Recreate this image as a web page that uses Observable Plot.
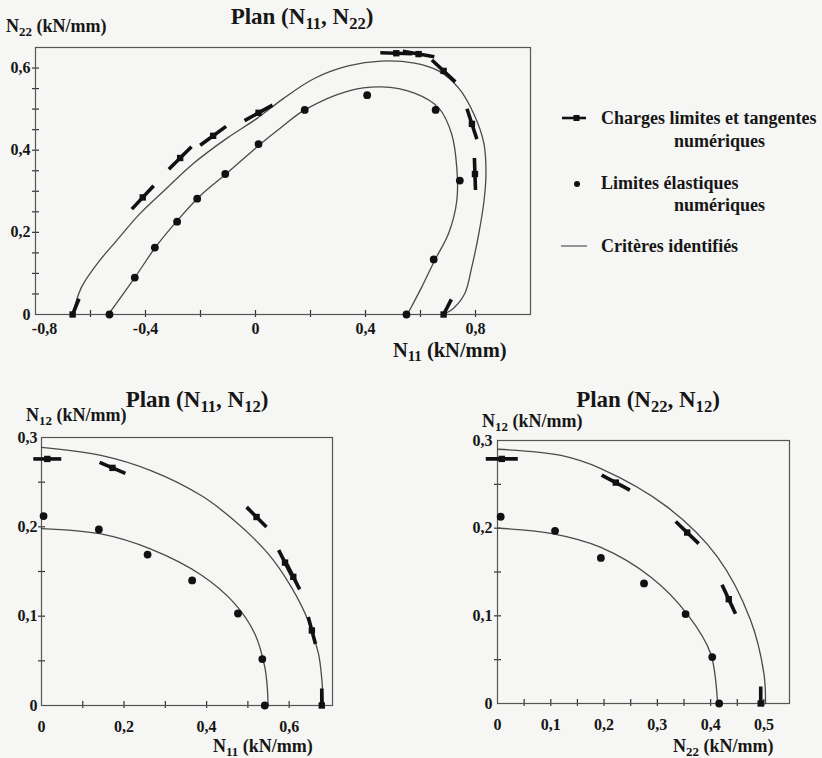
<!DOCTYPE html>
<html><head><meta charset="utf-8">
<script src="https://cdn.jsdelivr.net/npm/d3@7"></script>
<script src="https://cdn.jsdelivr.net/npm/@observablehq/plot@0.6"></script>
<style>
body{margin:0;background:#f6f6f4;}
#fig{position:relative;width:822px;height:758px;font-family:"Liberation Serif","Times New Roman",serif;color:#161616;overflow:hidden;font-weight:bold;}
#fig svg{position:absolute;overflow:visible;}
.t{position:absolute;white-space:nowrap;line-height:1;}
.title{font-size:23px;transform:translate(-50%,-50%);}
.lab{font-size:18px;transform:translateY(-50%);}
.labx{font-size:20.5px;transform:translateY(-50%);}
.leg{font-size:18px;transform:translateY(-50%);}
sub{font-size:0.72em;vertical-align:-0.32em;line-height:0;}
</style></head><body><div id="fig"></div>
<script>
// ---------- Plan (N11, N22) ----------
const topTicksX = [-0.6,-0.4,-0.2,0,0.2,0.4,0.6,0.8];
const topLabelsX = [-0.4,0,0.4,0.8];
const topEdgeLabelX = [-0.8];
const topTicksY = [0.05,0.1,0.15,0.2,0.25,0.3,0.35,0.4,0.45,0.5,0.55,0.6];
const topLabelsY = [0,0.2,0.4,0.6];
// critère identifié (charges limites)
const topCritLimX = [-0.665,-0.633,-0.567,-0.505,-0.421,-0.322,-0.227,-0.102,0.007,0.1,0.212,0.337,0.457,0.578,0.666,0.739,0.794,0.831,0.838,0.831,0.812,0.786,0.761,0.72,0.684];
const topCritLimY = [0,0.066,0.131,0.18,0.245,0.308,0.367,0.43,0.478,0.525,0.574,0.605,0.617,0.612,0.593,0.551,0.488,0.415,0.342,0.277,0.197,0.114,0.051,0.015,0];
// critère identifié (limites élastiques)
const topCritElaX = [-0.535,-0.446,-0.359,-0.285,-0.201,-0.102,0.018,0.091,0.179,0.337,0.457,0.578,0.666,0.713,0.732,0.732,0.702,0.651,0.604,0.56,0.552];
const topCritElaY = [0,0.083,0.168,0.228,0.289,0.345,0.415,0.454,0.498,0.544,0.554,0.539,0.503,0.44,0.357,0.277,0.197,0.131,0.066,0.01,0];
// limites élastiques numériques
const topElaX = [-0.531,-0.439,-0.366,-0.285,-0.212,-0.11,0.011,0.179,0.406,0.655,0.743,0.648,0.549];
const topElaY = [0,0.09,0.163,0.226,0.282,0.342,0.415,0.498,0.534,0.498,0.326,0.134,0];
// charges limites numériques et direction de la tangente (degrés)
const topLimX = [-0.665,-0.41,-0.274,-0.154,0.011,0.512,0.593,0.684,0.787,0.798,0.684];
const topLimY = [0,0.285,0.381,0.435,0.491,0.636,0.634,0.593,0.464,0.342,0];
const topLimAngle = [22,43,45,54,61,92,100,133,162,178,27];

// ---------- Plan (N11, N12) ----------
const blTicksX = [0.1,0.2,0.3,0.4,0.5,0.6];
const blLabelsX = [0,0.2,0.4,0.6];
const blTicksY = [0.05,0.1,0.15,0.2,0.25];
const blLabelsY = [0,0.1,0.2,0.3];
const blCritLimX = [0,0.144,0.265,0.387,0.467,0.549,0.606,0.646,0.671,0.679,0.683];
const blCritLimY = [0.289,0.28,0.263,0.235,0.207,0.17,0.132,0.095,0.058,0.03,0];
const blCritElaX = [0,0.144,0.265,0.387,0.468,0.517,0.541,0.547,0.549];
const blCritElaY = [0.198,0.192,0.175,0.146,0.114,0.08,0.043,0.02,0];
const blElaX = [0.005,0.139,0.257,0.365,0.476,0.535,0.541];
const blElaY = [0.212,0.197,0.169,0.14,0.103,0.052,0];
const blLimX = [0.014,0.172,0.521,0.59,0.61,0.655,0.679];
const blLimY = [0.276,0.266,0.211,0.16,0.144,0.084,0];
const blLimAngle = [90,113,135,153,153,165,0];

// ---------- Plan (N22, N12) ----------
const brTicksX = [0.05,0.1,0.15,0.2,0.25,0.3,0.35,0.4,0.45,0.5];
const brLabelsX = [0,0.1,0.2,0.3,0.4,0.5];
const brTicksY = [0.05,0.1,0.15,0.2,0.25];
const brLabelsY = [0,0.1,0.2,0.3];
const brCritLimX = [0,0.119,0.194,0.319,0.413,0.475,0.5,0.503];
const brCritLimY = [0.29,0.283,0.268,0.224,0.167,0.095,0.034,0];
const brCritElaX = [0,0.1,0.194,0.288,0.356,0.4,0.413];
const brCritElaY = [0.2,0.194,0.178,0.144,0.102,0.057,0];
const brElaX = [0.006,0.108,0.194,0.275,0.353,0.403,0.416];
const brElaY = [0.213,0.197,0.166,0.137,0.102,0.053,0];
const brLimX = [0.008,0.222,0.356,0.434,0.494];
const brLimY = [0.279,0.252,0.195,0.119,0];
const brLimAngle = [90,118,134,155,0];

// ---------- helpers ----------
const zip = (xs, ys) => xs.map((x, i) => ({x, y: ys[i]}));
const zipLim = (xs, ys, as) => xs.map((x, i) => ({x, y: ys[i], a: as[i]}));
const fmt = d => d === 0 ? "0" : String(d).replace(".", ",");
const stick = {draw(context, l) { context.moveTo(0, 0); context.lineTo(0, -l); }};
const FONT = '"Liberation Serif","Times New Roman",serif';

function panel(o) {
  const iw = o.width - o.ml - o.mr, ih = o.height - o.mt - o.mb;
  const lim = o.limits;
  const extra = o.edgeLabelsX ? [Plot.axisX({ticks: o.edgeLabelsX, tickSize: 0, tickPadding: o.padX, tickFormat: fmt, label: null, dx: 9})] : [];
  const svg = Plot.plot({
    width: o.width, height: o.height,
    marginLeft: o.ml, marginRight: o.mr, marginTop: o.mt, marginBottom: o.mb,
    x: {domain: o.xDomain}, y: {domain: o.yDomain},
    style: {background: "transparent", fontFamily: FONT, fontSize: "16px", fontWeight: "bold", color: "#161616", overflow: "visible"},
    marks: [
      Plot.tickX(o.xTicks, {x: d => d, insetTop: ih - 4, insetBottom: -3, stroke: "#333", strokeWidth: 1.2}),
      Plot.tickY(o.yTicks, {y: d => d, insetRight: iw - 4, insetLeft: -3, stroke: "#333", strokeWidth: 1.2}),
      Plot.axisX({ticks: o.xLabels, tickSize: 0, tickPadding: o.padX, tickFormat: fmt, label: null}),
      ...extra,
      Plot.axisY({ticks: o.yLabels, tickSize: 0, tickPadding: o.padY, tickFormat: fmt, label: null}),
      Plot.frame({stroke: "#555", strokeWidth: 1.2}),
      Plot.line(o.critLim, {x: "x", y: "y", curve: "catmull-rom", stroke: "#4a4a4a", strokeWidth: 1.3}),
      Plot.line(o.critEla, {x: "x", y: "y", curve: "catmull-rom", stroke: "#4a4a4a", strokeWidth: 1.3}),
      Plot.dot(o.ela, {x: "x", y: "y", r: 3.9, fill: "#111", stroke: "none"}),
      Plot.vector(lim.filter(d => d.y > 0), {x: "x", y: "y", rotate: "a", length: o.len, shape: stick, anchor: "middle", stroke: "#111", strokeWidth: 3.6, strokeLinecap: "butt"}),
      Plot.vector(lim.filter(d => d.y === 0), {x: "x", y: "y", rotate: "a", length: 17, shape: stick, anchor: "start", stroke: "#111", strokeWidth: 3.6, strokeLinecap: "butt"}),
      Plot.dot(lim, {x: "x", y: "y", symbol: "square", r: 3.6, fill: "#111", stroke: "none"})
    ]
  });
  svg.style.left = o.left + "px";
  svg.style.top = o.top + "px";
  return svg;
}

const fig = document.getElementById("fig");

fig.appendChild(panel({
  left: 0, top: 0, width: 545, height: 340, ml: 35, mr: 15, mt: 47, mb: 26,
  xDomain: [-0.8, 1.0], yDomain: [0, 0.65],
  xTicks: topTicksX, xLabels: topLabelsX, edgeLabelsX: topEdgeLabelX, yTicks: topTicksY, yLabels: topLabelsY,
  padX: 8, padY: 5, len: 32,
  critLim: zip(topCritLimX, topCritLimY), critEla: zip(topCritElaX, topCritElaY),
  ela: zip(topElaX, topElaY), limits: zipLim(topLimX, topLimY, topLimAngle)
}));

fig.appendChild(panel({
  left: 0, top: 420, width: 345, height: 310, ml: 41, mr: 13, mt: 17, mb: 25,
  xDomain: [0, 0.705], yDomain: [0, 0.3],
  xTicks: blTicksX, xLabels: blLabelsX, yTicks: blTicksY, yLabels: blLabelsY,
  padX: 15, padY: 4, len: 28,
  critLim: zip(blCritLimX, blCritLimY), critEla: zip(blCritElaX, blCritElaY),
  ela: zip(blElaX, blElaY), limits: zipLim(blLimX, blLimY, blLimAngle)
}));

fig.appendChild(panel({
  left: 440, top: 420, width: 360, height: 310, ml: 57, mr: 11, mt: 20, mb: 27,
  xDomain: [0, 0.548], yDomain: [0, 0.3],
  xTicks: brTicksX, xLabels: brLabelsX, yTicks: brTicksY, yLabels: brLabelsY,
  padX: 15, padY: 5, len: 32,
  critLim: zip(brCritLimX, brCritLimY), critEla: zip(brCritElaX, brCritElaY),
  ela: zip(brElaX, brElaY), limits: zipLim(brLimX, brLimY, brLimAngle)
}));

// ---------- texts ----------
function text(html, cls, x, y) {
  const d = document.createElement("div");
  d.className = "t " + cls;
  d.innerHTML = html;
  d.style.left = x + "px";
  d.style.top = y + "px";
  fig.appendChild(d);
}
text("Plan (N<sub>11</sub>, N<sub>22</sub>)", "title", 302, 16);
text("Plan (N<sub>11</sub>, N<sub>12</sub>)", "title", 197, 399);
text("Plan (N<sub>22</sub>, N<sub>12</sub>)", "title", 648, 399);
text("N<sub>22</sub> (kN/mm)", "lab", 6, 26);
text("N<sub>11</sub> (kN/mm)", "labx", 393, 350);
text("N<sub>12</sub> (kN/mm)", "lab", 26, 415);
text("N<sub>11</sub> (kN/mm)", "lab", 213, 746);
text("N<sub>12</sub> (kN/mm)", "lab", 482, 421);
text("N<sub>22</sub> (kN/mm)", "lab", 673, 746);

// ---------- legend ----------
const legendLabels = ["Charges limites et tangentes", "numériques", "Limites élastiques", "numériques", "Critères identifiés"];
text(legendLabels[0], "leg", 601, 118);
text(legendLabels[1], "leg", 674, 141);
text(legendLabels[2], "leg", 601, 183);
text(legendLabels[3], "leg", 674, 205);
text(legendLabels[4], "leg", 601, 246);
const ns = "http://www.w3.org/2000/svg";
const lg = document.createElementNS(ns, "svg");
lg.setAttribute("width", 40); lg.setAttribute("height", 160);
lg.style.left = "555px"; lg.style.top = "100px";
lg.innerHTML =
  '<line x1="7" x2="31" y1="18" y2="18" stroke="#111" stroke-width="2.6"/>' +
  '<rect x="18.5" y="15" width="6" height="6" fill="#111"/>' +
  '<circle cx="22" cy="84" r="3" fill="#111"/>' +
  '<line x1="6" x2="32" y1="146" y2="146" stroke="#555" stroke-width="1.2"/>';
fig.appendChild(lg);
</script>
</body></html>
